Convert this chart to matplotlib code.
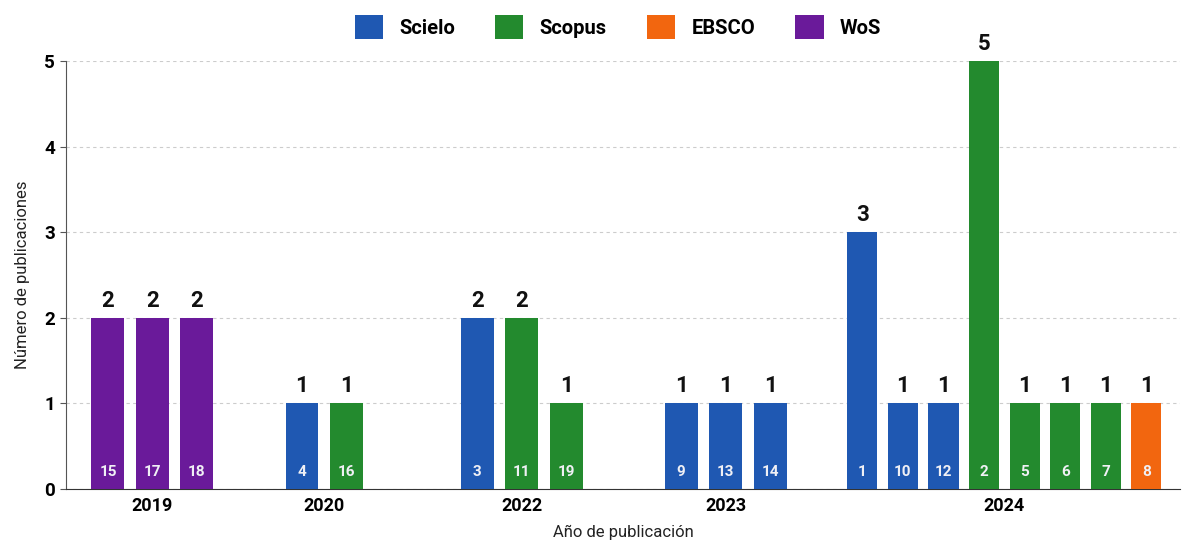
import numpy as np
import matplotlib
matplotlib.use('Agg')
import matplotlib.pyplot as plt
from matplotlib.patches import Patch

plt.rcParams['font.family'] = ['Roboto', 'DejaVu Sans']

# Data
years = ['2019', '2020', '2022', '2023', '2024']
group_sources = [
    ['WoS', 'WoS', 'WoS'],
    ['Scielo', 'Scopus'],
    ['Scielo', 'Scopus', 'Scopus'],
    ['Scielo', 'Scielo', 'Scielo'],
    ['Scielo', 'Scielo', 'Scielo', 'Scopus', 'Scopus', 'Scopus', 'Scopus', 'EBSCO'],
]
group_counts = [
    [2, 2, 2],
    [1, 1],
    [2, 2, 1],
    [1, 1, 1],
    [3, 1, 1, 5, 1, 1, 1, 1],
]
group_ids = [
    [15, 17, 18],
    [4, 16],
    [3, 11, 19],
    [9, 13, 14],
    [1, 10, 12, 2, 5, 6, 7, 8],
]

sources = ['Scielo', 'Scopus', 'EBSCO', 'WoS']
colors = {'Scielo': '#1f58b2', 'Scopus': '#238a2e', 'EBSCO': '#f2660f', 'WoS': '#6a1a9a'}

# layout: bar spacing inside each year group and distance to the next group
spacing = [1.0, 1.0, 1.0, 1.0, 0.912]
group_step = [2.36, 2.94, 2.58, 2.07]
bar_w = 0.74

fig = plt.figure(figsize=(11.86, 5.43), dpi=100)
ax = fig.add_axes([0.0556, 0.0994, 0.9394, 0.7883])

pos = 0.0
year_centers = []
for g, year in enumerate(years):
    xs = pos + spacing[g] * np.arange(len(group_counts[g]))
    year_centers.append(xs.mean())
    w = bar_w * spacing[g]
    for x, src, val, pid in zip(xs, group_sources[g], group_counts[g], group_ids[g]):
        ax.bar(x, val, width=w, color=colors[src], zorder=3)
        ax.text(x, val + 0.07, str(val), ha='center', va='bottom',
                fontsize=16, fontweight='bold', color='#111111', clip_on=False)
        ax.text(x, 0.2, str(pid), ha='center', va='center',
                fontsize=11, fontweight='bold', color='#f0f0f5', zorder=4)
    if g < len(group_step):
        pos = xs[-1] + group_step[g]

ax.set_xlim(-0.944, 24.09)
ax.set_ylim(0, 5)
ax.set_yticks(range(6))
ax.set_xticks(year_centers)
ax.set_xticklabels(years, fontsize=13, fontweight='bold')
for lbl in ax.get_yticklabels():
    lbl.set_fontweight('bold')
    lbl.set_fontsize(13.5)
ax.tick_params(axis='x', length=0, pad=6)
ax.tick_params(axis='y', length=4, color='#555555', pad=4)

ax.grid(axis='y', linestyle=(0, (3, 3)), color='#cccccc', linewidth=0.8, zorder=0)
for s in ['top', 'right']:
    ax.spines[s].set_visible(False)
ax.spines['left'].set_color('#555555')
ax.spines['bottom'].set_color('#333333')

ax.set_xlabel('Año de publicación', fontsize=12, labelpad=7, color='#222222')
ax.set_ylabel('Número de publicaciones', fontsize=12, labelpad=10, color='#222222')

handles = [Patch(facecolor=colors[s], label=s) for s in sources]
fig.legend(handles=handles, loc='upper center', bbox_to_anchor=(0.521, 1.005),
           ncol=4, frameon=False, handlelength=1.4, handleheight=1.4,
           columnspacing=2.0, handletextpad=0.8,
           prop={'weight': 'bold', 'size': 14.5})

fig.savefig('out.png', dpi=100)
